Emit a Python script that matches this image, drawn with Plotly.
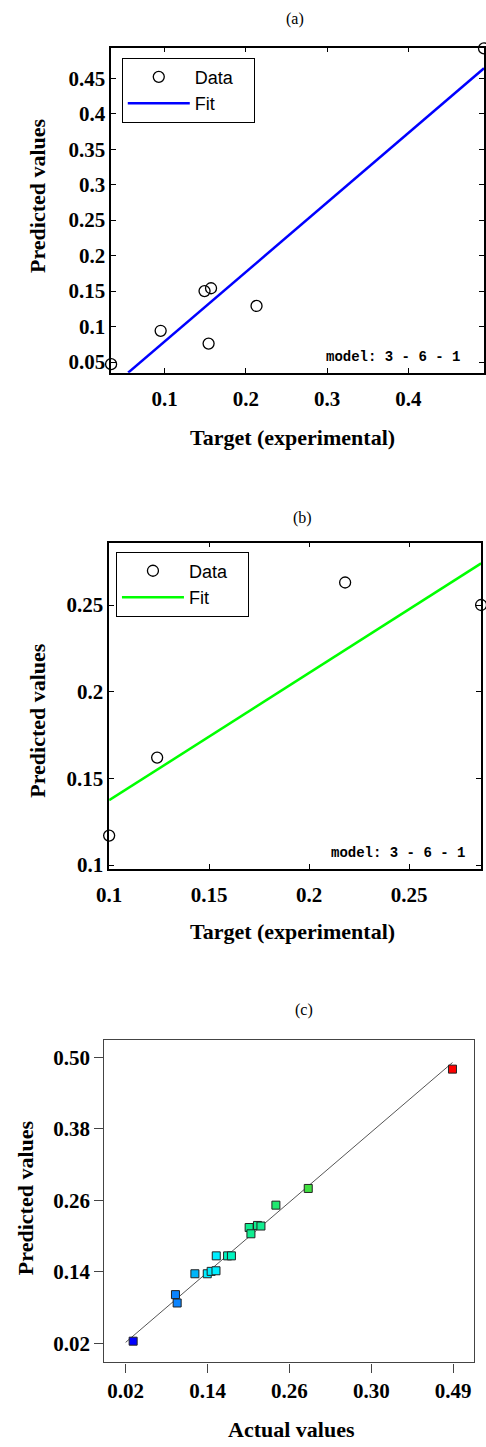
import plotly.graph_objects as go

W, H = 486, 1447

# ---------------- data ----------------
# (a)
a_target = [0.034, 0.095, 0.149, 0.157, 0.154, 0.213, 0.493]
a_pred = [0.047, 0.094, 0.150, 0.154, 0.076, 0.129, 0.492]
a_fit_x = [0.055, 0.493]
a_fit_y = [0.035, 0.464]
a_xticks = [0.1, 0.2, 0.3, 0.4]
a_xtext = ["0.1", "0.2", "0.3", "0.4"]
a_yticks = [0.05, 0.1, 0.15, 0.2, 0.25, 0.3, 0.35, 0.4, 0.45]
a_ytext = ["0.05", "0.1", "0.15", "0.2", "0.25", "0.3", "0.35", "0.4", "0.45"]

# (b)
b_target = [0.1, 0.124, 0.218, 0.286]
b_pred = [0.117, 0.162, 0.263, 0.250]
b_fit_x = [0.1, 0.286]
b_fit_y = [0.1374, 0.274]
b_xticks = [0.1, 0.15, 0.2, 0.25]
b_xtext = ["0.1", "0.15", "0.2", "0.25"]
b_yticks = [0.1, 0.15, 0.2, 0.25]
b_ytext = ["0.1", "0.15", "0.2", "0.25"]

# (c)
c_actual = [0.031, 0.093, 0.0955, 0.1215, 0.1396, 0.1453, 0.1524, 0.1528,
            0.1694, 0.175, 0.201, 0.2036, 0.2132, 0.2183, 0.2402, 0.2876, 0.499]
c_pred = [0.024, 0.102, 0.088, 0.137, 0.137, 0.141, 0.142, 0.167,
          0.167, 0.167, 0.2145, 0.204, 0.218, 0.217, 0.252, 0.280, 0.480]
c_colors = ["#0000FF", "#0A84FF", "#0A84FF", "#00B4F8", "#00EEFF", "#00EEFF", "#00EEFF", "#00EEFF",
            "#00F5C0", "#00F5C0", "#10EE90", "#10EE90", "#10EE90", "#10EE90", "#20E870", "#40E040", "#FF0000"]
c_line_x = [0.02, 0.499]
c_line_y = [0.022, 0.491]
c_ticks = [0.02, 0.14, 0.26, 0.38, 0.50]
c_xtext = ["0.02", "0.14", "0.26", "0.30", "0.49"]
c_ytext = ["0.02", "0.14", "0.26", "0.38", "0.50"]


def px(x):
    return x / W


def py(y):
    return 1 - y / H


SERIF = "Liberation Serif, Times New Roman, serif"
SANS = "Liberation Sans, Arial, sans-serif"
MONO = "Liberation Mono, Courier New, monospace"

fig = go.Figure()

# (a)
fig.add_trace(go.Scatter(x=a_target, y=a_pred, mode="markers", name="Data\u00a0\u00a0\u00a0",
                         marker=dict(symbol="circle-open", size=11, color="black", line=dict(width=1.3)),
                         xaxis="x", yaxis="y", legend="legend", cliponaxis=False))
fig.add_trace(go.Scatter(x=a_fit_x, y=a_fit_y, mode="lines", name="Fit",
                         line=dict(color="#0000FF", width=2.5),
                         xaxis="x", yaxis="y", legend="legend"))
# (b)
fig.add_trace(go.Scatter(x=b_target, y=b_pred, mode="markers", name="Data\u00a0\u00a0\u00a0",
                         marker=dict(symbol="circle-open", size=11, color="black", line=dict(width=1.3)),
                         xaxis="x2", yaxis="y2", legend="legend2", cliponaxis=False))
fig.add_trace(go.Scatter(x=b_fit_x, y=b_fit_y, mode="lines", name="Fit",
                         line=dict(color="#00FF00", width=2.5),
                         xaxis="x2", yaxis="y2", legend="legend2"))
# (c)
fig.add_trace(go.Scatter(x=c_line_x, y=c_line_y, mode="lines", showlegend=False,
                         line=dict(color="#555555", width=1),
                         xaxis="x3", yaxis="y3"))
fig.add_trace(go.Scatter(x=c_actual, y=c_pred, mode="markers", showlegend=False,
                         marker=dict(symbol="square", size=8, color=c_colors,
                                     line=dict(color="#222222", width=1)),
                         xaxis="x3", yaxis="y3", cliponaxis=False))

tickfont = dict(family=SERIF, size=21, color="black", weight="bold")

matlab_axis = dict(showline=True, linecolor="black", linewidth=1.5, mirror="ticks",
                   ticks="inside", ticklen=5, tickwidth=1, tickcolor="black",
                   showgrid=False, zeroline=False, tickfont=tickfont, tickmode="array")

legend_font = dict(family=SANS, size=18, color="black")

fig.update_layout(
    width=W, height=H, margin=dict(l=0, r=0, t=0, b=0),
    paper_bgcolor="white", plot_bgcolor="white",
    xaxis=dict(matlab_axis, domain=[px(101), px(485)], range=[0.034, 0.493],
               tickvals=a_xticks, ticktext=a_xtext, anchor="y", ticklabelstandoff=6),
    yaxis=dict(matlab_axis, domain=[py(375), py(48)], range=[0.035, 0.493],
               tickvals=a_yticks, ticktext=a_ytext, anchor="x", ticklabelstandoff=0),
    xaxis2=dict(matlab_axis, domain=[px(99), px(482)], range=[0.1, 0.286],
                tickvals=b_xticks, ticktext=b_xtext, anchor="y2", ticklabelstandoff=6),
    yaxis2=dict(matlab_axis, domain=[py(874), py(546)], range=[0.098, 0.286],
                tickvals=b_yticks, ticktext=b_ytext, anchor="x2", ticklabelstandoff=0),
    xaxis3=dict(domain=[px(94), px(475)], range=[-0.0113, 0.531], anchor="y3",
                showline=True, linecolor="#444444", linewidth=1.2, mirror=True,
                ticks="outside", ticklen=9, tickcolor="#444444", showgrid=False, zeroline=False,
                tickmode="array", tickvals=c_ticks, ticktext=c_xtext, tickfont=tickfont),
    yaxis3=dict(domain=[py(1371), py(1047)], range=[-0.0117, 0.528], anchor="x3",
                showline=True, linecolor="#444444", linewidth=1.2, mirror=True,
                ticks="outside", ticklen=9, tickcolor="#444444", showgrid=False, zeroline=False,
                tickmode="array", tickvals=c_ticks, ticktext=c_ytext, tickfont=tickfont),
    legend=dict(x=px(112), y=py(58), xanchor="left", yanchor="top",
                bordercolor="black", borderwidth=1, bgcolor="white",
                font=legend_font, itemwidth=62, tracegroupgap=0),
    legend2=dict(x=px(106), y=py(555), xanchor="left", yanchor="top",
                 bordercolor="black", borderwidth=1, bgcolor="white",
                 font=legend_font, itemwidth=62, tracegroupgap=0),
    showlegend=True,
)

ann = []
# panel titles
for txt, x, y in [("(a)", 290, 19), ("(b)", 298, 521), ("(c)", 300, 1016)]:
    ann.append(dict(text=txt, x=px(x), y=py(y), xref="paper", yref="paper",
                    xanchor="center", yanchor="middle", showarrow=False,
                    font=dict(family=SERIF, size=16, color="black")))
# x-axis titles
for txt, x, y in [("Target (experimental)", 288, 440), ("Target (experimental)", 288, 937),
                  ("Actual values", 287, 1438)]:
    ann.append(dict(text="<b>%s</b>" % txt, x=px(x), y=py(y), xref="paper", yref="paper",
                    xanchor="center", yanchor="middle", showarrow=False,
                    font=dict(family=SERIF, size=22, color="black")))
# y-axis titles
for x, y in [(26, 197), (25, 725), (13, 1205)]:
    ann.append(dict(text="<b>Predicted values</b>", x=px(x), y=py(y), xref="paper", yref="paper",
                    xanchor="center", yanchor="middle", showarrow=False, textangle=-90,
                    font=dict(family=SERIF, size=22, color="black")))
# model labels
for x, y in [(462, 359), (467, 858)]:
    ann.append(dict(text="<b>model: 3 - 6 - 1</b>", x=px(x), y=py(y), xref="paper", yref="paper",
                    xanchor="right", yanchor="middle", showarrow=False,
                    font=dict(family=MONO, size=14, color="black")))
fig.update_layout(annotations=ann)

fig.write_html("out.html")
